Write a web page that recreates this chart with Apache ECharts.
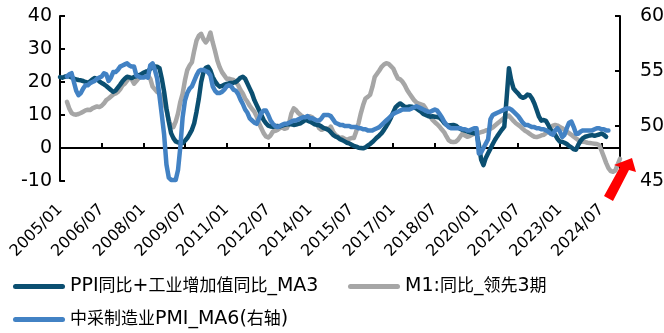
<!DOCTYPE html>
<html>
<head>
<meta charset="utf-8">
<script src="https://cdn.jsdelivr.net/npm/echarts@6/dist/echarts.min.js"></script>
<style>
  html, body { margin: 0; padding: 0; background: #fff; }
  #chart { width: 664px; height: 333px; }
</style>
</head>
<body>
<div id="chart"></div>
<script>
// Monthly categories, 2005/01 .. 2025/03
const months = [];
for (let y = 2005; y <= 2025; y++) {
  for (let m = 1; m <= 12; m++) {
    if (y === 2025 && m > 3) break;
    months.push(y + '/' + (m < 10 ? '0' + m : m));
  }
}

const seriesNames = ['PPI同比+工业增加值同比_MA3', 'M1:同比_领先3期', '中采制造业PMI_MA6(右轴)'];

// PPI YoY + industrial value-added YoY, 3-month average (left axis)
const ppiIp = [
  21.5, 21.3, 21.6, 21.8, 21.7, 21.4, 21.0, 20.8, 20.6, 20.5, 20.3, 20.0,
  19.8, 20.2, 20.8, 21.2, 20.8, 20.2, 19.7, 19.3, 18.8, 18.2, 17.6, 17.0,
  17.4, 18.3, 19.2, 20.2, 21.0, 21.6, 21.4, 21.2, 21.5, 21.8, 22.0, 22.3,
  22.8, 23.1, 23.3, 24.0, 24.5, 24.7, 24.6, 24.2, 21.0, 17.0, 12.0, 8.0,
  4.5, 3.0, 2.0, 1.7, 1.5, 1.5, 2.2, 3.0, 4.2, 5.5, 7.5, 11.0,
  15.0, 20.0, 23.0, 24.3, 24.6, 23.5, 21.5, 20.2, 19.2, 18.6, 18.8, 19.2,
  19.4, 19.6, 19.7, 19.8, 20.0, 20.6, 21.3, 21.6, 21.0, 19.5, 18.0, 16.5,
  14.5, 13.0, 11.5, 10.0, 8.5, 7.5, 6.8, 6.5, 6.4, 6.6, 6.7, 6.5,
  6.8, 7.0, 7.2, 7.3, 7.2, 7.0, 7.1, 7.3, 7.5, 8.0, 8.5, 8.3,
  8.0, 7.6, 7.2, 7.0, 6.9, 6.5, 6.0, 5.8, 5.5, 4.8, 4.0, 3.5,
  3.2, 2.7, 2.4, 2.0, 1.6, 1.4, 1.0, 0.6, 0.4, 0.1, 0.0, -0.1,
  0.2, 0.7, 1.2, 1.8, 2.5, 3.2, 3.8, 4.5, 5.5, 6.6, 7.8, 9.2,
  10.8, 12.3, 13.0, 13.5, 13.0, 12.5, 12.4, 12.6, 12.5, 12.3, 12.0, 11.5,
  11.0, 10.3, 10.0, 9.7, 9.5, 9.6, 9.5, 9.4, 9.2, 8.5, 7.6, 7.0,
  6.8, 6.9, 7.0, 6.8, 6.2, 5.8, 5.5, 5.3, 5.0, 4.8, 4.6, 4.5,
  4.5, 1.0, -3.5, -5.2, -3.0, -1.6, -0.2, 1.2, 2.5, 3.6, 4.6, 5.6,
  6.5, 15.0, 24.2, 20.5, 18.0, 17.2, 16.5, 15.6, 15.2, 15.5, 16.2, 16.0,
  15.0, 13.5, 11.5, 9.5, 8.3, 8.5, 8.2, 7.0, 5.5, 4.6, 4.0, 2.8,
  1.9, 1.9, 1.6, 1.2, 0.6, 0.2, -0.4, -0.5, 1.0, 2.2, 3.0, 3.4,
  3.6, 3.8, 3.9, 3.7, 3.9, 4.1, 4.4, 4.0, 3.4
];

// M1 YoY, shifted 3 months ahead (left axis)
const m1Lead3 = [
  null, null, null, 14.0, 12.0, 10.6, 10.2, 10.1, 10.3, 10.6, 11.0, 11.4,
  11.6, 11.5, 12.0, 12.3, 12.6, 12.4, 12.8, 13.5, 14.5, 15.0, 15.6, 16.2,
  16.5, 17.0, 17.8, 19.0, 19.5, 20.4, 21.5, 20.8, 19.5, 20.3, 21.2, 21.6,
  22.2, 23.0, 22.0, 21.0, 18.6, 17.8, 17.0, 16.5, 15.2, 13.5, 11.6, 8.5,
  6.5, 6.3, 8.0, 10.5, 14.0, 16.5, 20.5, 23.6, 25.0, 26.0, 29.5, 32.6,
  34.0, 34.6, 33.0, 32.0, 33.0, 35.0, 32.0, 29.4, 26.5, 24.5, 23.0, 22.0,
  21.0, 21.0, 20.8, 20.6, 20.0, 19.0, 17.6, 16.5, 15.0, 14.0, 12.8, 11.8,
  11.0, 9.5, 7.5, 6.0, 4.5, 3.5, 3.2, 3.8, 5.0, 5.2, 5.5, 6.0,
  6.2, 5.8, 6.0, 7.5, 10.5, 12.0, 11.5, 10.6, 10.0, 9.5, 9.0, 9.2,
  9.6, 9.3, 8.5, 7.5, 6.0, 5.5, 5.8, 6.0, 5.5, 6.5, 5.0, 4.0,
  3.5, 3.0, 3.2, 2.8, 2.5, 2.8, 3.0, 3.0, 5.0, 7.5, 10.5, 13.0,
  15.0, 15.5, 16.1, 18.5, 21.5, 22.5, 23.5, 24.6, 25.3, 25.7, 25.5, 24.8,
  24.1, 22.5, 21.1, 20.8, 20.1, 19.0, 17.6, 16.5, 15.5, 14.5, 13.8, 13.5,
  13.2, 13.0, 12.0, 10.8, 9.5, 8.5, 7.8, 7.2, 6.5, 5.6, 4.8, 3.5,
  2.3, 1.9, 1.8, 1.9, 2.5, 3.5, 4.4, 3.8, 3.4, 3.6, 4.0, 4.4,
  4.4, 4.6, 4.8, 5.0, 5.3, 5.5, 5.8, 6.2, 6.8, 7.4, 8.0, 8.6,
  9.2, 9.5, 9.8, 9.0, 8.2, 7.5, 7.0, 6.5, 5.8, 5.2, 4.8, 4.3,
  3.8, 3.4, 3.3, 3.5, 3.8, 4.0, 4.5, 5.2, 6.0, 6.8, 7.0, 6.8,
  6.4, 6.0, 5.5, 5.0, 4.5, 4.0, 3.4, 2.9, 2.4, 2.0, 1.9, 1.8,
  1.6, 1.5, 1.4, 1.3, 1.2, 0.9, -0.8, -2.6, -4.5, -6.1, -7.0, -7.2,
  -6.8, -5.0, -3.3
];

// CFLP manufacturing PMI, 6-month average (right axis)
const pmiMa6 = [
  null, null, null, 54.5, 54.7, 54.8, 54.0, 53.2, 52.8, 53.0, 53.4, 53.7,
  53.7, 53.9, 54.0, 54.1, 54.3, 54.4, 54.5, 54.8, 54.7, 54.1, 54.4, 54.9,
  54.9, 55.1, 55.4, 55.5, 55.6, 55.7, 55.5, 55.4, 55.4, 54.6, 54.5, 54.4,
  54.4, 54.5, 54.4, 55.5, 55.7, 55.1, 54.3, 52.7, 51.0, 49.2, 46.5, 45.3,
  45.1, 45.1, 45.1, 46.0, 48.1, 50.8, 52.3, 53.0, 53.4, 53.6, 54.1, 54.6,
  55.0, 55.1, 55.1, 55.0, 54.9, 54.6, 53.6, 53.2, 53.0, 53.0, 53.1, 53.3,
  53.6, 53.7, 53.6, 53.3, 53.2, 52.9, 52.4, 52.0, 51.5, 51.2, 50.7, 50.5,
  50.3, 50.2, 50.7, 51.2, 51.4, 51.4, 51.0, 50.5, 50.2, 50.0, 49.9, 50.0,
  50.1, 50.2, 50.2, 50.3, 50.4, 50.5, 50.5, 50.6, 50.7, 50.8, 50.8, 50.9,
  50.7, 50.7, 50.6, 50.5, 50.5, 50.7, 51.0, 51.0, 51.0, 50.9, 50.6, 50.3,
  50.2, 50.1, 50.1, 50.0, 50.0, 50.0, 49.9, 49.9, 49.9, 49.8, 49.8, 49.7,
  49.7, 49.6, 49.6, 49.6, 49.7, 49.8, 49.9, 50.1, 50.3, 50.5, 50.7, 50.9,
  51.1, 51.2, 51.3, 51.4, 51.5, 51.5, 51.5, 51.5, 51.6, 51.7, 51.8, 51.7,
  51.6, 51.5, 51.4, 51.3, 51.3, 51.4, 51.5, 51.4, 51.1, 50.8, 50.4, 50.1,
  49.9, 49.8, 49.8, 49.8, 49.8, 49.8, 49.7, 49.7, 49.6, 49.6, 49.7, 49.8,
  49.8, 47.5, 47.6, 48.0, 48.4, 48.8, 50.6, 51.0, 51.1, 51.2, 51.3, 51.4,
  51.5, 51.6, 51.6, 51.5, 51.3, 51.1, 50.9, 50.6, 50.3, 50.1, 50.1, 50.0,
  49.9, 49.9, 49.8, 49.8, 49.7, 49.7, 49.6, 49.5, 49.3, 49.2, 49.6, 49.8,
  49.5, 49.0, 49.2, 49.8, 50.3, 50.4, 49.9, 49.3, 49.3, 49.5, 49.6, 49.6,
  49.6, 49.6, 49.6, 49.7, 49.8, 49.8, 49.7, 49.7, 49.6, 49.6
];

const leftTicks = { min: -10, max: 40, step: 10 };
const rightTicks = { min: 45, max: 60, step: 5 };

const colors = { ppiIp: '#0B4F71', m1: '#A6A6A6', pmi: '#4282C4' };
const latin = "'DejaVu Sans'";
const cjk = "'DejaVu Sans','Noto Sans CJK SC'";

const chart = echarts.init(document.getElementById('chart'), null, { renderer: 'canvas' });

const axisLineStyle = { color: '#000', width: 2 };
const lineIcon = 'path://M2.5,0 L49.5,0 A2.5,2.5 0 0 1 49.5,5 L2.5,5 A2.5,2.5 0 0 1 2.5,0 Z';

// wrap ASCII runs so Latin text uses its own rich style
const legendFormatter = name => name.replace(/[\x21-\x7e]+/g, s => '{l|' + s + '}');

function legendAt(name, left, top) {
  return {
    data: [name],
    left: left,
    top: top,
    padding: 0,
    icon: lineIcon,
    itemWidth: 52,
    itemHeight: 5,
    selectedMode: false,
    formatter: legendFormatter,
    textStyle: {
      color: '#000',
      fontSize: 17,
      fontFamily: cjk,
      rich: { l: { color: '#000', fontSize: 19, fontFamily: latin } }
    }
  };
}

const option = {
  animation: false,
  backgroundColor: '#fff',
  grid: { left: 60, right: 44, top: 16, bottom: 152, containLabel: false, outerBoundsMode: 'none' },
  legend: [
    legendAt(seriesNames[0], 13, 277),
    legendAt(seriesNames[1], 348, 277),
    legendAt(seriesNames[2], 13, 310)
  ],
  xAxis: {
    type: 'category',
    data: months,
    boundaryGap: false,
    axisLine: { show: true, onZero: true, onZeroAxisIndex: 0, lineStyle: axisLineStyle },
    axisTick: { show: true, inside: true, length: 5, interval: 17, lineStyle: axisLineStyle },
    axisLabel: {
      interval: 17,
      rotate: 45,
      margin: 26,
      color: '#000',
      fontSize: 16,
      fontFamily: latin,
      hideOverlap: false
    },
    splitLine: { show: false }
  },
  yAxis: [
    {
      type: 'value',
      position: 'left',
      min: leftTicks.min,
      max: leftTicks.max,
      interval: leftTicks.step,
      axisLine: { show: true, onZero: false, lineStyle: axisLineStyle },
      axisTick: { show: true, inside: true, length: 5, lineStyle: axisLineStyle },
      axisLabel: { color: '#000', fontSize: 19, fontFamily: latin, margin: 8 },
      splitLine: { show: false }
    },
    {
      type: 'value',
      position: 'right',
      min: rightTicks.min,
      max: rightTicks.max,
      interval: rightTicks.step,
      axisLine: { show: true, onZero: false, lineStyle: axisLineStyle },
      axisTick: { show: true, inside: true, length: 5, lineStyle: axisLineStyle },
      axisLabel: { color: '#000', fontSize: 19, fontFamily: latin, margin: 20 },
      splitLine: { show: false }
    }
  ],
  series: [
    {
      name: seriesNames[1], type: 'line', yAxisIndex: 0, data: m1Lead3,
      symbol: 'none', showSymbol: false, connectNulls: false, color: colors.m1,
      lineStyle: { color: colors.m1, width: 4.5, cap: 'round', join: 'round' }
    },
    {
      name: seriesNames[0], type: 'line', yAxisIndex: 0, data: ppiIp,
      symbol: 'none', showSymbol: false, connectNulls: false, color: colors.ppiIp,
      lineStyle: { color: colors.ppiIp, width: 4.5, cap: 'round', join: 'round' }
    },
    {
      name: seriesNames[2], type: 'line', yAxisIndex: 1, data: pmiMa6,
      symbol: 'none', showSymbol: false, connectNulls: false, color: colors.pmi,
      lineStyle: { color: colors.pmi, width: 4.5, cap: 'round', join: 'round' }
    }
  ],
  graphic: [
    {
      type: 'polygon',
      z: 100,
      shape: { points: [[632, 158], [636, 172], [629, 170], [613, 201], [604, 196], [620, 167], [614, 165]] },
      style: { fill: '#FF0000' }
    }
  ]
};

chart.setOption(option);
</script>
</body>
</html>
